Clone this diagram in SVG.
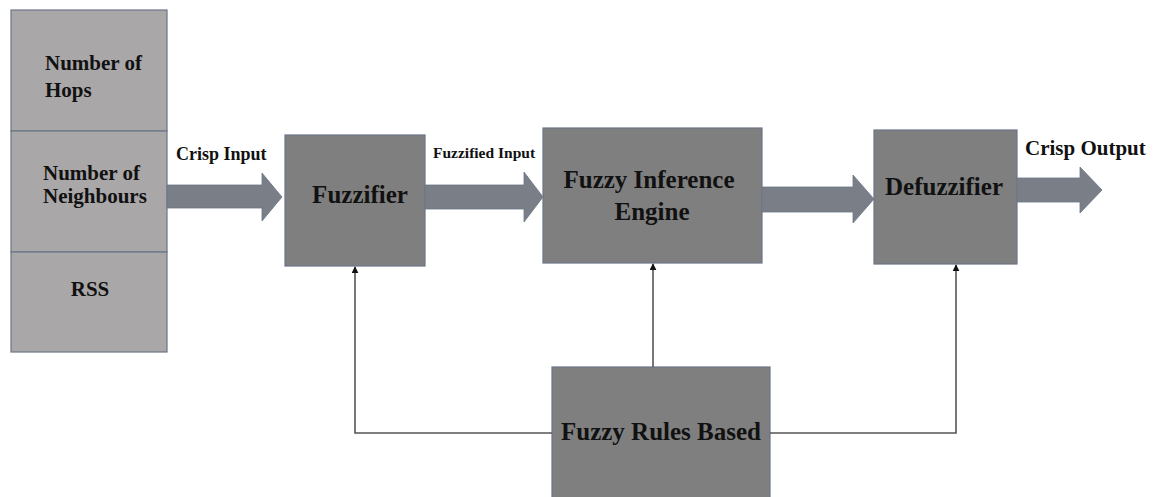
<svg xmlns="http://www.w3.org/2000/svg" width="1155" height="497" viewBox="0 0 1155 497">
  <style>
    .box { fill: #7f7f7f; stroke: #6a7689; stroke-width: 1.2; }
    .cell { fill: #a9a7a8; stroke: #6a7689; stroke-width: 1.2; }
    .flow { fill: #7a7f87; stroke: #6a7689; stroke-width: 0.8; }
    .link { fill: none; stroke: #555555; stroke-width: 1.6; }
    text { font-family: "Liberation Serif", "Times New Roman", serif; font-weight: bold; fill: #111111; }
    .big { font-size: 25px; text-anchor: middle; }
    .cellt { font-size: 21px; }
  </style>
  <defs>
    <marker id="tip" viewBox="0 0 10 10" refX="9" refY="5" markerWidth="7" markerHeight="7" markerUnits="userSpaceOnUse" orient="auto">
      <path d="M0,0 L10,5 L0,10 Z" fill="#111111"/>
    </marker>
  </defs>

  <!-- input variables stack -->
  <g id="inputs">
    <rect class="cell" x="11" y="10" width="156" height="121"/>
    <rect class="cell" x="11" y="131" width="156" height="121"/>
    <rect class="cell" x="11" y="252" width="156" height="100"/>
    <text class="cellt" x="45" y="70">Number of</text>
    <text class="cellt" x="45" y="97">Hops</text>
    <text class="cellt" x="43" y="180">Number of</text>
    <text class="cellt" x="43" y="203">Neighbours</text>
    <text class="cellt" x="90" y="296" text-anchor="middle">RSS</text>
  </g>

  <g id="fuzzifier">
    <rect class="box" x="285" y="135" width="140" height="131"/>
    <text class="big" x="360" y="203">Fuzzifier</text>
  </g>

  <g id="inference-engine">
    <rect class="box" x="543" y="128" width="219" height="135"/>
    <text class="big" x="649" y="188">Fuzzy Inference</text>
    <text class="big" x="652" y="220">Engine</text>
  </g>

  <g id="defuzzifier">
    <rect class="box" x="874" y="130" width="143" height="134"/>
    <text class="big" x="944" y="195">Defuzzifier</text>
  </g>

  <g id="rule-base">
    <rect class="box" x="552" y="367" width="218" height="135"/>
    <text class="big" x="661" y="440">Fuzzy Rules Based</text>
  </g>

  <!-- connectors -->
  <g id="connectors">
    <!-- block arrows along the main flow -->
    <path class="flow" d="M167,185 L262,185 L262,173 L282,197 L262,221 L262,208 L167,208 Z"/>
    <path class="flow" d="M425,185 L524,185 L524,172 L543,197 L524,222 L524,209 L425,209 Z"/>
    <path class="flow" d="M762,187 L853,187 L853,175 L874,199 L853,223 L853,212 L762,212 Z"/>
    <path class="flow" d="M1017,178 L1080,178 L1080,167 L1102,190 L1080,213 L1080,202 L1017,202 Z"/>

    <!-- rule base feeds every stage -->
    <path class="link" d="M552,433 L355,433 L355,267" marker-end="url(#tip)"/>
    <path class="link" d="M653,367 L653,264" marker-end="url(#tip)"/>
    <path class="link" d="M770,433 L956,433 L956,265" marker-end="url(#tip)"/>

    <text x="176" y="160" font-size="18">Crisp Input</text>
    <text x="433" y="158" font-size="15.5">Fuzzified Input</text>
    <text x="1025" y="155" font-size="21">Crisp Output</text>
  </g>
</svg>
